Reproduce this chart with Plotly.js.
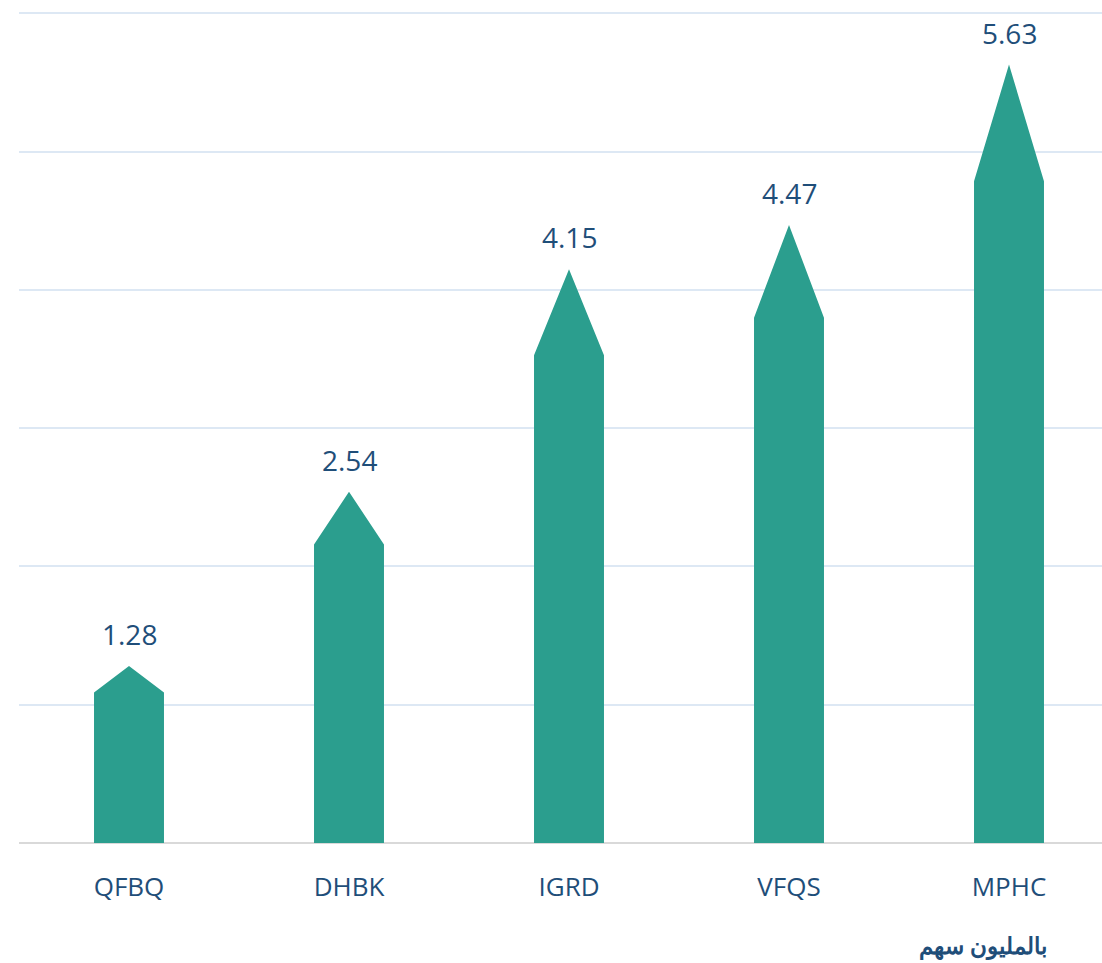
<!DOCTYPE html>
<html><head><meta charset="utf-8">
<script src="https://cdn.plot.ly/plotly-3.0.1.min.js"></script>
<style>body{margin:0;background:#fff}#c{width:1102px;height:963px}</style>
</head><body><div id="c"></div>
<script>
const categories = ["QFBQ","DHBK","IGRD","VFQS","MPHC"];
const values = [1.28, 2.54, 4.15, 4.47, 5.63];
const unitLabel = "بالمليون سهم";

const teal = "#2b9e8e";
const txt = "#1f4e79";
const headFrac = 0.15;
const halfW = 0.159;
const xs = categories.map((c,i)=>i);

const px=[], py=[];
values.forEach((v,i)=>{
  const s = v*(1-headFrac);
  px.push(i-halfW, i-halfW, i, i+halfW, i+halfW, i-halfW, null);
  py.push(0, s, v, s, 0, 0, null);
});
const arrows = {
  type:"scatter", mode:"lines", x:px, y:py, fill:"toself", fillcolor:teal,
  line:{width:0,color:teal}, hoverinfo:"skip", showlegend:false
};
const ann = values.map((v,i)=>({
  x:i, y:v, xref:"x", yref:"y", text:v.toFixed(2), showarrow:false,
  yanchor:"middle", yshift:32, font:{family:"Open Sans, sans-serif", size:28, color:txt}
}));
ann.push({
  xref:"paper", yref:"paper", x:(983-19)/1083, y:(843-947)/831, text:"<b>"+unitLabel+"</b>",
  showarrow:false, xanchor:"center", yanchor:"middle",
  font:{family:"Liberation Sans, Arial, sans-serif", size:23, color:txt}
});
const layout = {
  width:1102, height:963, margin:{l:19,r:0,t:12,b:120},
  paper_bgcolor:"#fff", plot_bgcolor:"#fff",
  xaxis:{range:[-0.5,(1102-129)/220], tickvals:xs, ticktext:categories, showgrid:false,
    zeroline:false, showline:false, ticks:"outside", ticklen:21, tickcolor:"rgba(0,0,0,0)",
    tickfont:{family:"Open Sans, sans-serif", size:26, color:txt}, fixedrange:true},
  yaxis:{range:[0,6.01], tickvals:[1,2,3,4,5,6], showticklabels:false, gridcolor:"#dde8f4", gridwidth:2,
    zeroline:true, zerolinecolor:"#d9d9d9", zerolinewidth:2, showline:false},
  annotations:ann
};
Plotly.newPlot("c",[arrows],layout,{displayModeBar:false,staticPlot:true});
</script></body></html>
